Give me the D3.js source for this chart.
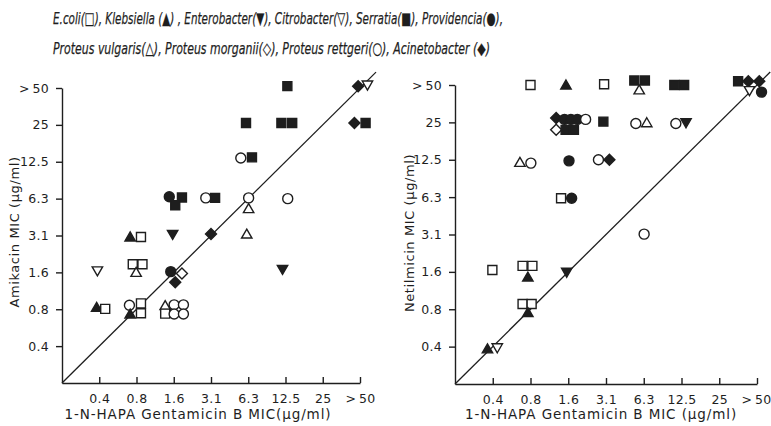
<!DOCTYPE html>
<html>
<head>
<meta charset="utf-8">
<script src="https://cdn.jsdelivr.net/npm/d3@7"></script>
<style>
  body { margin: 0; background: #fff; }
  svg { display: block; }
  text { fill: #1e1e1e; font-family: "DejaVu Sans", sans-serif; }
</style>
</head>
<body>
<svg id="chart" width="771" height="426"></svg>
<script>
// MIC categories, placed on an equal-step (log2) scale: index 1 = 0.4 ... index 8 = >50
let mic_labels = ["0.4", "0.8", "1.6", "3.1", "6.3", "12.5", "25", ">\u200950"];

// organisms: name, marker shape, filled?
let species = [
  { name: "E.coli", shape: "square", filled: false },
  { name: "Klebsiella", shape: "up", filled: true },
  { name: "Enterobacter", shape: "down", filled: true },
  { name: "Citrobacter", shape: "down", filled: false },
  { name: "Serratia", shape: "square", filled: true },
  { name: "Providencia", shape: "circle", filled: true },
  { name: "Proteus vulgaris", shape: "up", filled: false },
  { name: "Proteus morganii", shape: "diamond", filled: false },
  { name: "Proteus rettgeri", shape: "circle", filled: false },
  { name: "Acinetobacter", shape: "diamond", filled: true }
];

// [species index, gentamicin B MIC (scale units), amikacin MIC (scale units)]
let amikacin_points = [
  [9, 7.95, 8.05], [3, 8.2, 8.08], [4, 6.05, 8.05],
  [4, 4.94, 7.05], [4, 5.89, 7.05], [4, 6.18, 7.05], [9, 7.85, 7.05], [4, 8.15, 7.05],
  [8, 4.8, 6.1], [4, 5.1, 6.12],
  [5, 2.88, 5.05], [4, 3.22, 5.03], [4, 3.04, 4.82], [8, 3.86, 5.02], [4, 4.11, 5.02],
  [8, 5.01, 5.02], [6, 5.01, 4.73], [8, 6.06, 5.0],
  [1, 1.83, 3.96], [0, 2.12, 3.96], [2, 2.97, 4.03], [9, 4.0, 4.04], [6, 4.96, 4.04],
  [3, 0.95, 3.04], [0, 1.9, 3.22], [0, 2.16, 3.22], [6, 1.99, 3.0],
  [5, 2.92, 3.02], [7, 3.22, 2.97], [9, 3.04, 2.73], [2, 5.92, 3.08],
  [1, 0.93, 2.05], [0, 1.16, 2.01], [8, 1.81, 2.11], [0, 2.12, 2.16],
  [1, 1.83, 1.87], [0, 2.12, 1.89],
  [6, 2.77, 2.1], [8, 3.01, 2.12], [8, 3.26, 2.12],
  [0, 2.77, 1.88], [8, 3.01, 1.87], [8, 3.26, 1.87]
];

// [species index, gentamicin B MIC (scale units), netilmicin MIC (scale units)]
let netilmicin_points = [
  [0, 2.0, 8.0], [1, 2.94, 8.0], [0, 3.95, 8.02], [4, 4.75, 8.12], [4, 5.03, 8.12],
  [6, 4.88, 7.87], [4, 5.81, 8.0], [4, 6.07, 8.0],
  [4, 7.5, 8.1], [9, 7.77, 8.1], [9, 8.06, 8.1], [3, 7.8, 7.85], [5, 8.12, 7.81],
  [9, 2.68, 7.12], [5, 2.9, 7.08], [5, 3.07, 7.08], [5, 3.24, 7.08], [8, 3.46, 7.08],
  [7, 2.68, 6.8], [4, 2.93, 6.8], [4, 3.15, 6.8],
  [4, 3.93, 7.02], [8, 4.79, 6.97], [6, 5.08, 6.99], [8, 5.85, 6.97], [2, 6.12, 6.99],
  [6, 1.72, 5.93], [8, 2.01, 5.91], [5, 3.02, 5.97], [8, 3.8, 6.0], [9, 4.09, 6.0],
  [0, 2.81, 4.97], [5, 3.09, 4.97],
  [8, 5.01, 4.01],
  [0, 0.99, 3.05], [0, 1.79, 3.16], [0, 2.05, 3.16], [1, 1.93, 2.86], [2, 2.96, 2.99],
  [0, 1.79, 2.14], [0, 2.03, 2.14], [1, 1.93, 1.91],
  [1, 0.86, 0.94], [3, 1.12, 0.97]
];

let ink = "#1e1e1e";
let svg = d3.select("#chart");

// legend
let legend_lines = [
  { text: "E.coli(□), Klebsiella (▲) , Enterobacter(▼), Citrobacter(▽), Serratia(■), Providencia(●),", y: 24, len: 450 },
  { text: "Proteus vulgaris(△), Proteus morganii(◇), Proteus rettgeri(○), Acinetobacter (◆)", y: 54, len: 437 }
];
svg.selectAll("text.legend")
  .data(legend_lines)
  .join("text")
  .classed("legend", true)
  .attr("x", 53)
  .attr("y", d => d.y)
  .attr("font-size", 16.5)
  .attr("font-style", "italic")
  .attr("stroke", ink)
  .attr("stroke-width", 0.25)
  .attr("textLength", d => d.len)
  .attr("lengthAdjust", "spacingAndGlyphs")
  .text(d => d.text);

function marker_path(shape) {
  let p = d3.path();
  if (shape == "square") {
    p.rect(-4.5, -4.5, 9, 9);
  } else if (shape == "circle") {
    p.arc(0, 0, 5, 0, 2 * Math.PI);
  } else if (shape == "up") {
    p.moveTo(0, -5); p.lineTo(5.2, 4); p.lineTo(-5.2, 4); p.closePath();
  } else if (shape == "down") {
    p.moveTo(0, 5); p.lineTo(5.2, -4); p.lineTo(-5.2, -4); p.closePath();
  } else if (shape == "diamond") {
    p.moveTo(0, -5.5); p.lineTo(5.5, 0); p.lineTo(0, 5.5); p.lineTo(-5.5, 0); p.closePath();
  }
  return p.toString();
}

function draw_panel(cfg) {
  let scale_x = d3.scaleLinear().domain([0, 8]).range(cfg.x_range);
  let scale_y = d3.scaleLinear().domain([0, 8]).range(cfg.y_range);

  let g = svg.append("g");

  let axis_x = d3.axisBottom(scale_x)
    .tickValues(d3.range(1, 9))
    .tickFormat(i => mic_labels[i - 1])
    .tickSizeInner(-6)
    .tickSizeOuter(0)
    .tickPadding(11);
  let axis_y = d3.axisLeft(scale_y)
    .tickValues(d3.range(1, 9))
    .tickFormat(i => mic_labels[i - 1])
    .tickSizeInner(6)
    .tickSizeOuter(0)
    .tickPadding(5);

  let gx = g.append("g")
    .attr("transform", "translate(0," + cfg.y_range[0] + ")")
    .call(axis_x);
  let gy = g.append("g")
    .attr("transform", "translate(" + cfg.x_range[0] + ",0)")
    .call(axis_y);

  g.selectAll(".domain, .tick line")
    .attr("stroke", ink)
    .attr("stroke-width", 1.4);
  g.selectAll(".tick text")
    .attr("font-size", 12.5)
    .attr("font-family", "DejaVu Sans, sans-serif")
    .attr("letter-spacing", 0.3)
    .attr("fill", ink);
  gy.selectAll(".tick text").attr("dx", -2);
  gx.selectAll(".tick text").attr("dx", (d, i) => i == 7 ? cfg.last_dx : 0);

  // line of equality
  let diag = d3.line()
    .x(d => scale_x(d))
    .y(d => scale_y(d));
  g.append("path")
    .datum([0, cfg.diag_end])
    .attr("d", diag)
    .attr("fill", "none")
    .attr("stroke", ink)
    .attr("stroke-width", 1.3);

  g.selectAll("path.mark")
    .data(cfg.points)
    .join("path")
    .classed("mark", true)
    .attr("transform", d => "translate(" + scale_x(d[1]) + "," + scale_y(d[2]) + ")")
    .attr("d", d => marker_path(species[d[0]].shape))
    .attr("fill", d => species[d[0]].filled ? ink : "#fff")
    .attr("stroke", ink)
    .attr("stroke-width", 1.4);

  // axis titles
  g.append("text")
    .attr("transform", "translate(" + cfg.y_title_x + "," + cfg.y_title_y + ") rotate(-90)")
    .attr("text-anchor", "middle")
    .attr("font-size", 13)
    .attr("letter-spacing", 0.6)
    .text(cfg.y_title);
  g.append("text")
    .attr("x", cfg.x_title_x)
    .attr("y", 419)
    .attr("text-anchor", "middle")
    .attr("font-size", 13.5)
    .attr("letter-spacing", 0.9)
    .text(cfg.x_title);
}

draw_panel({
  x_range: [62, 360],
  y_range: [383, 88],
  diag_end: 8.43,
  points: amikacin_points,
  last_dx: 0,
  y_title: "Amikacin MIC (μg/ml)",
  y_title_x: 19,
  y_title_y: 232,
  x_title: "1-N-HAPA  Gentamicin B MIC(μg/ml)",
  x_title_x: 198
});

draw_panel({
  x_range: [455, 757],
  y_range: [384, 85],
  diag_end: 8.35,
  points: netilmicin_points,
  last_dx: -1,
  y_title: "Netilmicin MIC (μg/ml)",
  y_title_x: 414,
  y_title_y: 233,
  x_title: "1-N-HAPA  Gentamicin B MIC (μg/ml)",
  x_title_x: 601
});
</script>
</body>
</html>
